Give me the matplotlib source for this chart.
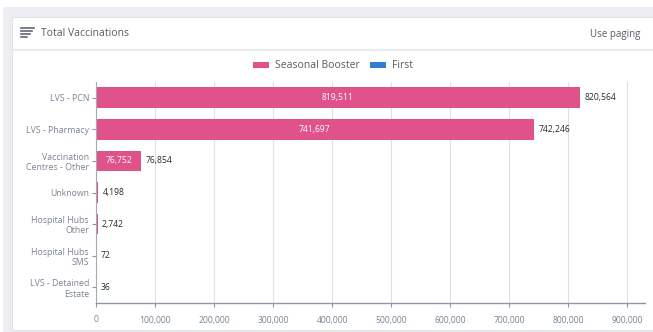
import numpy as np
import matplotlib.pyplot as plt
from matplotlib.patches import Rectangle
from matplotlib.lines import Line2D
from matplotlib.ticker import FuncFormatter

# Data
sites = ['LVS - PCN', 'LVS - Pharmacy', 'Vaccination\nCentres - Other',
         'Unknown', 'Hospital Hubs\nOther', 'Hospital Hubs\nSMS',
         'LVS - Detained\nEstate']
seasonal = [819511, 741697, 76752, 4198, 2742, 72, 36]
first = [1053, 549, 102, 0, 0, 0, 0]
x_ticks = [0, 100000, 200000, 300000, 400000, 500000, 600000, 700000,
           800000, 900000]

pink = '#e0538a'
blue = '#2f7fd1'
grey_txt = '#7a8494'
dark_txt = '#2b2b2b'

plt.rcParams['font.family'] = ['Open Sans', 'DejaVu Sans']

W, H = 653, 332
fig = plt.figure(figsize=[W / 100, H / 100], dpi=100)
fig.patch.set_facecolor('white')


def px(x0, y0, w, h):
    return [x0 / W, 1 - (y0 + h) / H, w / W, h / H]


# page background and card
fig.patches.append(Rectangle((3 / W, 0), 1, 1 - 7 / H, transform=fig.transFigure,
                             facecolor='#eceef2', edgecolor='none', zorder=-3))
fig.patches.append(Rectangle((12 / W, 1 - 330 / H), 1, (330 - 17) / H,
                             transform=fig.transFigure, facecolor='white',
                             edgecolor='#dfe2e7', linewidth=0.8, zorder=-2))
fig.lines.append(Line2D([12 / W, 1], [1 - 50 / H, 1 - 50 / H],
                        transform=fig.transFigure, color='#e4e7eb', lw=1.2))

# header
for i, w in enumerate([13, 11, 9, 6]):
    yy = 1 - (28 + i * 3) / H
    fig.lines.append(Line2D([21 / W, (21 + w) / W], [yy, yy],
                            transform=fig.transFigure, color='#5f6773', lw=1.2))
fig.text(41 / W, 1 - 34 / H, 'Total Vaccinations', fontsize=7.5,
         color='#555c66', va='center', ha='left')
fig.text(640 / W, 1 - 34 / H, 'Use paging', fontsize=7, color='#555c66',
         va='center', ha='right')

# legend
fig.patches.append(Rectangle((253 / W, 1 - 68 / H), 16 / W, 6 / H,
                             transform=fig.transFigure, facecolor=pink,
                             edgecolor='none'))
fig.text(275 / W, 1 - 65 / H, 'Seasonal Booster', fontsize=7.5,
         color='#555c66', va='center', ha='left')
fig.patches.append(Rectangle((370 / W, 1 - 68 / H), 16 / W, 6 / H,
                             transform=fig.transFigure, facecolor=blue,
                             edgecolor='none'))
fig.text(392 / W, 1 - 65 / H, 'First', fontsize=7.5, color='#555c66',
         va='center', ha='left')

# chart
ax = fig.add_axes(px(96, 82, 549, 221))
y = np.arange(len(sites))
ax.barh(y, seasonal, height=0.66, color=pink, zorder=2)
ax.barh(y, first, left=seasonal, height=0.66, color=blue, zorder=2)

for i in range(len(sites)):
    total = seasonal[i] + first[i]
    if seasonal[i] > 30000:
        ax.text(seasonal[i] / 2, y[i], f'{seasonal[i]:,}', color='white',
                fontsize=6.2, ha='center', va='center', zorder=3)
    ax.text(total + 7000, y[i], f'{total:,}', color=dark_txt, fontsize=6.2,
            ha='left', va='center', zorder=3)

ax.set_xlim(0, 930000)
ax.set_ylim(len(sites) - 0.5, -0.5)
ax.set_xticks(x_ticks)
ax.xaxis.set_major_formatter(FuncFormatter(lambda v, p: f'{int(v):,}'))
ax.set_yticks(y)
ax.set_yticklabels(sites, fontsize=6.3, color=grey_txt, linespacing=1.2)
ax.tick_params(axis='x', labelsize=6.2, labelcolor=grey_txt, length=3,
               color='#8d96a6', width=0.8, pad=6)
ax.tick_params(axis='y', length=3, color='#8d96a6', width=0.8, pad=2)
ax.grid(axis='x', color='#dde1e7', lw=0.8, zorder=0)
for s in ['top', 'right']:
    ax.spines[s].set_visible(False)
ax.spines['bottom'].set_color('#8d96a6')
ax.spines['left'].set_color('#a3abb8')
ax.spines['bottom'].set_linewidth(1.0)
ax.spines['left'].set_linewidth(0.8)

plt.savefig('out.png', dpi=100)
